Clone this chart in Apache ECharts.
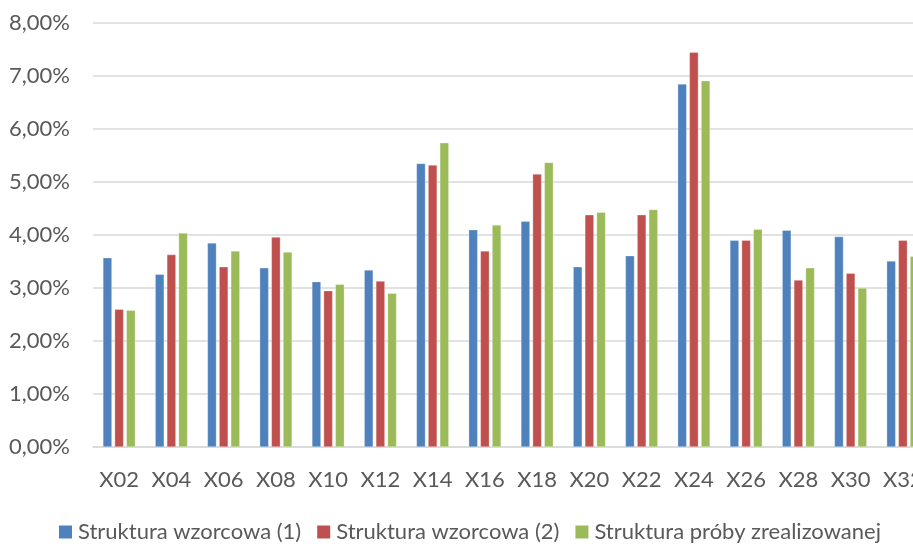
<!DOCTYPE html>
<html>
<head>
<meta charset="utf-8">
<script src="https://cdn.jsdelivr.net/npm/echarts@6/dist/echarts.min.js"></script>
<style>
html,body{margin:0;padding:0;background:#fff;overflow:hidden;width:913px;height:544px;}
#chart{width:929px;height:544px;}
</style>
</head>
<body>
<div id="chart"></div>
<script>
const categories = ['X02','X04','X06','X08','X10','X12','X14','X16','X18','X20','X22','X24','X26','X28','X30','X32'];
const wzorcowa1 = [3.57,3.26,3.85,3.38,3.12,3.34,5.35,4.10,4.26,3.40,3.61,6.85,3.90,4.09,3.97,3.51];
const wzorcowa2 = [2.60,3.63,3.40,3.96,2.95,3.13,5.32,3.70,5.15,4.38,4.38,7.45,3.90,3.15,3.28,3.90];
const proby     = [2.58,4.04,3.70,3.68,3.07,2.90,5.74,4.19,5.37,4.43,4.48,6.91,4.11,3.38,3.00,3.60];
const seriesNames = ['Struktura wzorcowa (1)','Struktura wzorcowa (2)','Struktura próby zrealizowanej'];
const colors = ['#4F81BD','#C0504D','#9BBB59'];

const font = 'Lato';
const fs = 22;
const chart = echarts.init(document.getElementById('chart'), null, {renderer:'canvas'});
const mk = (name, data, color) => ({
  name, type:'bar', data, barWidth: 9, barGap: '30%',
  itemStyle:{color, borderColor:'rgba(255,255,255,0.6)', borderWidth:0.5},
  animation:false
});
chart.setOption({
  animation:false,
  textStyle:{fontFamily:font},
  grid:{left:93, right:0, top:23, bottom:97, containLabel:false},
  legend:{
    top:516, left:54,
    itemWidth:13, itemHeight:13, itemGap:16,
    icon:'rect',
    itemStyle:{borderWidth:0},
    textStyle:{color:'#595959', fontSize:fs, fontFamily:font, padding:[0,0,0,1]},
    data: seriesNames
  },
  xAxis:{
    type:'category', data:categories,
    axisLine:{lineStyle:{color:'#D9D9D9', width:1.5}},
    axisTick:{show:false},
    axisLabel:{color:'#595959', fontSize:fs, fontFamily:font, margin:22, interval:0}
  },
  yAxis:{
    type:'value', min:0, max:8, interval:1,
    axisLine:{show:false}, axisTick:{show:false},
    splitLine:{lineStyle:{color:'#D9D9D9', width:1.5}},
    axisLabel:{color:'#595959', fontSize:fs, fontFamily:font, margin:23,
      formatter: v => v.toFixed(2).replace('.',',') + '%'}
  },
  series:[
    mk(seriesNames[0], wzorcowa1, colors[0]),
    mk(seriesNames[1], wzorcowa2, colors[1]),
    mk(seriesNames[2], proby, colors[2])
  ]
});
</script>
</body>
</html>
